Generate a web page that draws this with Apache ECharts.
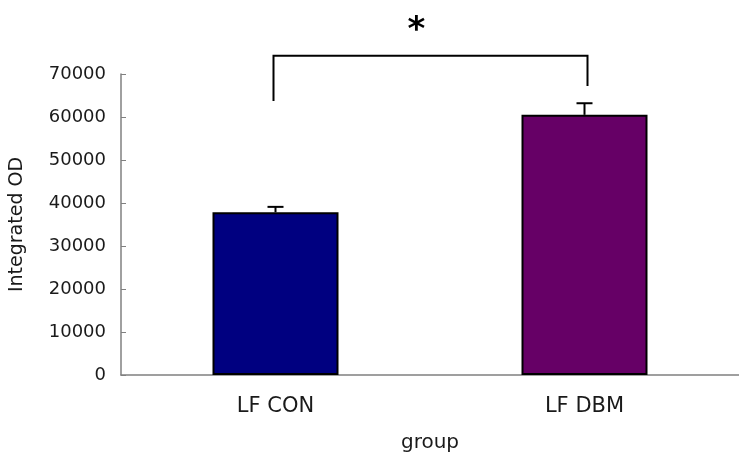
<!DOCTYPE html>
<html>
<head>
<meta charset="utf-8">
<script src="https://cdn.jsdelivr.net/npm/echarts@6/dist/echarts.min.js"></script>
<style>html,body{margin:0;padding:0;background:#fff}#c{width:739px;height:458px}</style>
</head>
<body>
<div id="c"></div>
<script>
var categories = ['LF CON', 'LF DBM'];
var means = [37850, 60500];
var errors = [1250, 2700];
var barColors = ['#000080', '#660066'];
var yTicks = [0, 10000, 20000, 30000, 40000, 50000, 60000, 70000];
var bracketTop = 74250;
var bracketEnds = [63750, 67200];
var sigLabel = '*';

var FONT = 'DejaVu Sans';
var chart = echarts.init(document.getElementById('c'));

var errData = categories.map(function (c, i) { return [i, means[i], means[i] + errors[i]]; });

chart.setOption({
  animation: false,
  backgroundColor: '#fff',
  grid: { left: 121, top: 74, width: 626, height: 302, containLabel: false },
  xAxis: {
    type: 'category',
    data: categories,
    boundaryGap: true,
    axisLine: { lineStyle: { color: '#808080', width: 1.5 } },
    axisTick: { inside: true, length: 5, lineStyle: { color: '#808080' } },
    axisLabel: { color: '#1a1a1a', fontFamily: FONT, fontSize: 21, margin: 21 },
    name: 'group',
    nameLocation: 'middle',
    nameGap: 58,
    nameTextStyle: { color: '#1a1a1a', fontFamily: FONT, fontSize: 20 }
  },
  yAxis: {
    type: 'value',
    min: yTicks[0],
    max: yTicks[yTicks.length - 1],
    interval: yTicks[1] - yTicks[0],
    splitLine: { show: false },
    axisLine: { show: true, lineStyle: { color: '#808080', width: 1.5 } },
    axisTick: { show: true, inside: true, length: 5, lineStyle: { color: '#808080' } },
    axisLabel: { color: '#1a1a1a', fontFamily: FONT, fontSize: 18, margin: 15, formatter: function (v) { return String(v); } },
    name: 'Integrated OD',
    nameLocation: 'middle',
    nameGap: 94,
    nameTextStyle: { color: '#1a1a1a', fontFamily: FONT, fontSize: 19 }
  },
  series: [
    {
      type: 'bar',
      data: means.map(function (v, i) {
        return { value: v, itemStyle: { color: barColors[i] } };
      }),
      barWidth: 126,
      itemStyle: { borderColor: '#000', borderWidth: 2 },
      z: 2
    },
    {
      type: 'custom',
      data: errData,
      z: 3,
      renderItem: function (params, api) {
        var base = api.coord([api.value(0), api.value(1)]);
        var top = api.coord([api.value(0), api.value(2)]);
        var hw = 8;
        return {
          type: 'group',
          children: [
            { type: 'line', shape: { x1: top[0], y1: base[1], x2: top[0], y2: top[1] }, style: { stroke: '#000', lineWidth: 2 } },
            { type: 'line', shape: { x1: top[0] - hw, y1: top[1], x2: top[0] + hw, y2: top[1] }, style: { stroke: '#000', lineWidth: 2 } }
          ]
        };
      }
    },
    {
      type: 'custom',
      data: [[0, bracketEnds[0], 1, bracketEnds[1], bracketTop]],
      z: 3,
      renderItem: function (params, api) {
        var a = api.coord([api.value(0), api.value(1)]);
        var b = api.coord([api.value(2), api.value(3)]);
        var t = api.coord([api.value(0), api.value(4)])[1];
        var ax = a[0] - 2, bx = b[0] + 3;
        return {
          type: 'group',
          children: [
            { type: 'polyline', shape: { points: [[ax, a[1]], [ax, t], [bx, t], [bx, b[1]]] }, style: { stroke: '#000', lineWidth: 2, fill: null } },
            { type: 'text', style: { text: sigLabel, x: (ax + bx) / 2 - 14, y: t - 25, align: 'center', verticalAlign: 'middle', font: 'bold 34px ' + FONT, fill: '#000' } }
          ]
        };
      }
    }
  ]
});
</script>
</body>
</html>
